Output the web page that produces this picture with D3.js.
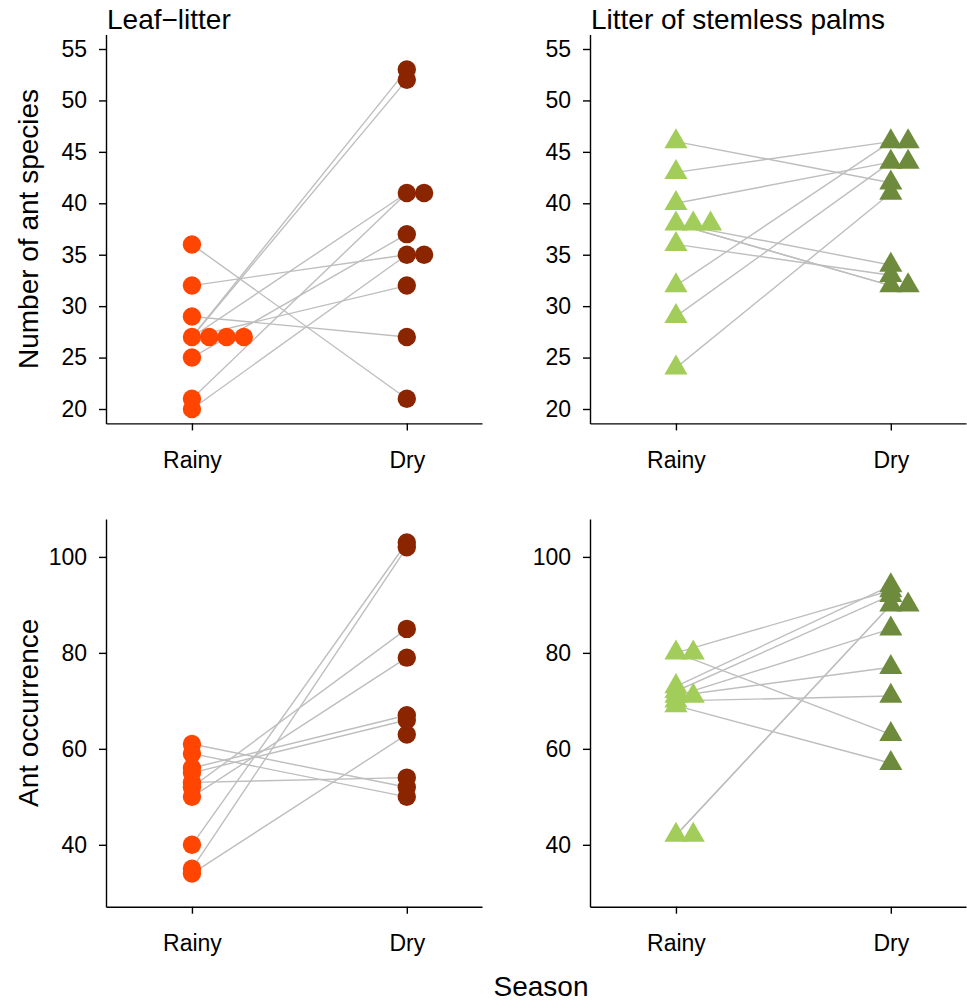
<!DOCTYPE html>
<html>
<head>
<meta charset="utf-8">
<script src="https://cdn.jsdelivr.net/npm/d3@7"></script>
<style>
  html, body { margin: 0; padding: 0; background: #fff; }
  svg { display: block; }
  text { font-family: "Liberation Sans", Arial, Helvetica, sans-serif; fill: #000; }
</style>
</head>
<body>
<svg id="chart" width="967" height="1002"></svg>
<script>
// ---- data ----
const seasons = ["Rainy", "Dry"];
const panelTitles = ["Leaf\u2212litter", "Litter of stemless palms"];
const rowLabels = ["Number of ant species", "Ant occurrence"];
const xLabel = "Season";

const speciesTicks = [20, 25, 30, 35, 40, 45, 50, 55];
const occurrenceTicks = [40, 60, 80, 100];

// leaf-litter, number of species (paired by site)
const litterSpeciesRainy = [36, 32, 29, 27, 27, 27, 27, 25, 21, 20];
const litterSpeciesDry   = [21, 35, 27, 53, 52, 41, 32, 37, 41, 35];
// stemless palms litter, number of species
const palmSpeciesRainy = [46, 43, 40, 38, 38, 38, 36, 32, 29, 24];
const palmSpeciesDry   = [42, 46, 44, 34, 32, 32, 33, 46, 44, 41];
// leaf-litter, occurrence
const litterOccRainy = [61, 59, 56, 55, 53, 52, 50, 40, 35, 34];
const litterOccDry   = [52, 50, 67, 66, 54, 85, 79, 103, 102, 63];
// stemless palms litter, occurrence
const palmOccRainy = [80, 80, 73, 72, 71, 71, 70, 69, 42, 42];
const palmOccDry   = [93, 63, 94, 92, 85, 77, 71, 57, 90, 90];

// ---- layout / style ----
const svg = d3.select("#chart");
const colLeft = [106, 590];
const plotW = 376;
const rows = [
  { y0: 423.4, y1: 34.6, domain: [18.6, 56.4], ticks: speciesTicks },
  { y0: 906.7, y1: 519.0, domain: [27.1, 107.9], ticks: occurrenceTicks }
];
const stackStep = 0.0805; // x units between stacked equal values
const tickFont = 23, labFont = 28;

const panels = [
  { row: 0, col: 0, rainy: litterSpeciesRainy, dry: litterSpeciesDry, shape: "circle", cR: "#FF4500", cD: "#8B2500" },
  { row: 0, col: 1, rainy: palmSpeciesRainy, dry: palmSpeciesDry, shape: "triangle", cR: "#A2CD5A", cD: "#6E8B3D" },
  { row: 1, col: 0, rainy: litterOccRainy, dry: litterOccDry, shape: "circle", cR: "#FF4500", cD: "#8B2500" },
  { row: 1, col: 1, rainy: palmOccRainy, dry: palmOccDry, shape: "triangle", cR: "#A2CD5A", cD: "#6E8B3D" }
];

function stacked(values, xpos) {
  const seen = new Map();
  return values.map(v => {
    const k = seen.get(v) || 0;
    seen.set(v, k + 1);
    return { x: xpos + k * stackStep, v };
  });
}

panels.forEach(p => {
  const r = rows[p.row];
  const x = d3.scaleLinear().domain([0.6, 2.35]).range([colLeft[p.col], colLeft[p.col] + plotW]);
  const y = d3.scaleLinear().domain(r.domain).range([r.y0, r.y1]);
  const g = svg.append("g");

  // axes
  const ax = g.append("g").attr("transform", `translate(0,${r.y0})`)
    .call(d3.axisBottom(x).tickValues([1, 2]).tickFormat(d => seasons[d - 1])
      .tickSizeInner(7).tickSizeOuter(0).tickPadding(21));
  const ay = g.append("g").attr("transform", `translate(${colLeft[p.col]},0)`)
    .call(d3.axisLeft(y).tickValues(r.ticks).tickSizeInner(7).tickSizeOuter(0).tickPadding(12));
  [ax, ay].forEach(a => {
    a.selectAll("path.domain").attr("stroke", "#000").attr("stroke-width", 1.4);
    a.selectAll(".tick line").attr("stroke", "#000").attr("stroke-width", 1.4);
    a.selectAll(".tick text").attr("font-size", tickFont).attr("fill", "#000")
      .style("font-family", '"Liberation Sans", Arial, sans-serif');
  });

  // pair lines (site by site), between season centres
  g.append("g").selectAll("line").data(p.rainy.map((v, i) => [v, p.dry[i]])).join("line")
    .attr("x1", x(1)).attr("x2", x(2))
    .attr("y1", d => y(d[0])).attr("y2", d => y(d[1]))
    .attr("stroke", "#BEBEBE").attr("stroke-width", 1.4);

  const pts = [
    { data: stacked(p.rainy, 1), color: p.cR },
    { data: stacked(p.dry, 2), color: p.cD }
  ];
  pts.forEach(s => {
    if (p.shape === "circle") {
      g.append("g").selectAll("circle").data(s.data).join("circle")
        .attr("cx", d => x(d.x)).attr("cy", d => y(d.v)).attr("r", 9.2)
        .attr("fill", s.color);
    } else {
      const tri = d3.symbol().type(d3.symbolTriangle).size(231);
      g.append("g").selectAll("path").data(s.data).join("path")
        .attr("transform", d => `translate(${x(d.x)},${y(d.v)})`)
        .attr("d", tri).attr("fill", s.color);
    }
  });

  if (p.row === 0) {
    g.append("text").attr("x", colLeft[p.col] + 1).attr("y", 29)
      .attr("font-size", labFont).text(panelTitles[p.col]);
  }
  if (p.col === 0) {
    const cy = (r.y0 + r.y1) / 2;
    g.append("text").attr("transform", `translate(38,${cy}) rotate(-90)`)
      .attr("text-anchor", "middle").attr("font-size", labFont).text(rowLabels[p.row]);
  }
});

svg.append("text").attr("x", 541).attr("y", 996).attr("text-anchor", "middle")
  .attr("font-size", labFont).text(xLabel);
</script>
</body>
</html>
